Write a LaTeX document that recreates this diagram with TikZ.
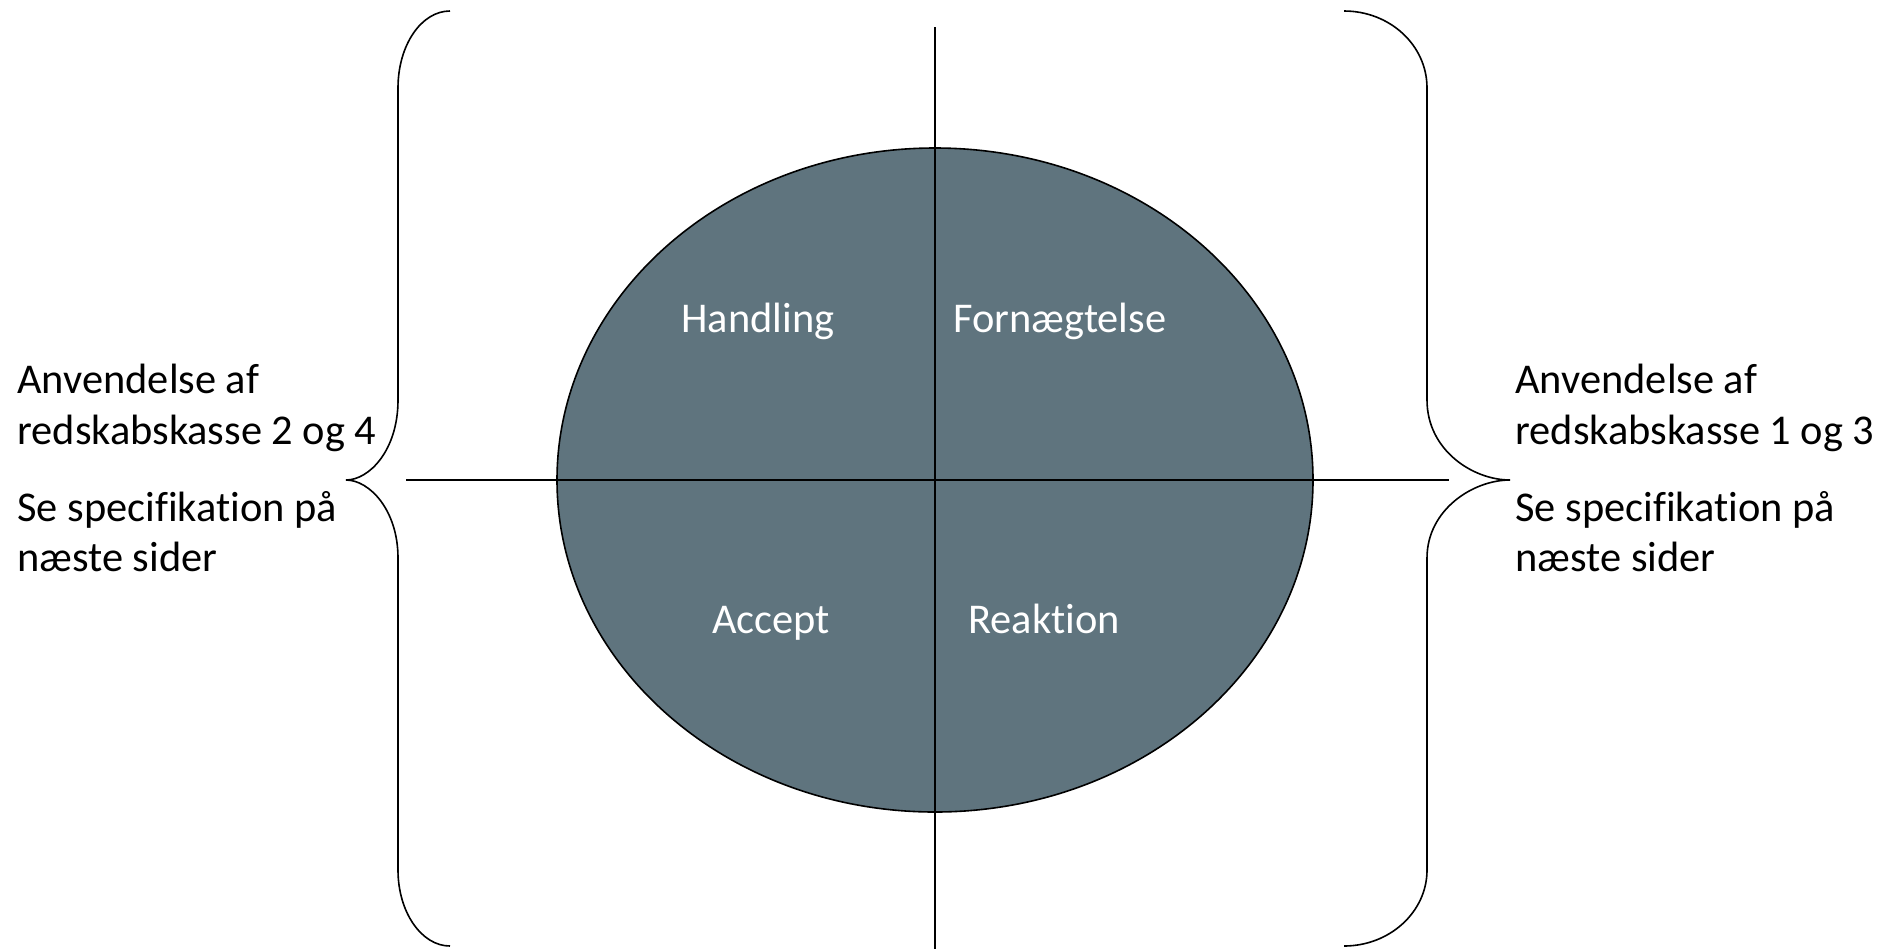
\documentclass[tikz,border=0pt]{standalone}
\usepackage{fontspec}
\setmainfont{Carlito}[Ligatures=NoCommon]
\usepackage{xcolor}
\usetikzlibrary{shapes.geometric,positioning}
\definecolor{discgray}{RGB}{95,116,126}

\begin{document}
\begin{tikzpicture}[x=0.5pt,y=-0.5pt,
        sidetext/.style={anchor=base west,inner sep=0pt,font=\fontsize{21.2}{25.5}\selectfont},
        quadtext/.style={anchor=base,inner sep=0pt,text=white,font=\fontsize{21.2}{25.5}\selectfont},
        bracestyle/.style={line width=0.8pt,black},
        axisline/.style={line width=1pt,black}]
        \useasboundingbox (0,0) rectangle (1894,949);

        % Disc in the middle
        \node[ellipse,draw=black,line width=0.8pt,fill=discgray,
              minimum width=756pt*0.5,minimum height=664pt*0.5,inner sep=0pt] (disc) at (935,480) {};

        % Cross through the disc
        \coordinate (vtop) at (935,27);
        \coordinate (vbot) at (935,949);
        \coordinate (hleft) at (406,480);
        \coordinate (hright) at (1449,480);
        \draw[axisline] (vtop) -- (vbot);
        \draw[axisline] (hleft) -- (hright);

        % Quadrant labels
        \node[quadtext] (handling) at (758,332) {Handling};
        \node[quadtext] (fornaegt) at (1060,332) {Fornægtelse};
        \node[quadtext] (accept) at (771,633) {Accept};
        \node[quadtext] (reaktion) at (1044,633) {Reaktion};

        % Braces (end x / straight x / tip x)
        \foreach \e/\s/\t in {450/398/346, 1344/1427/1510} {
            \draw[bracestyle] (\e,11)
                .. controls ({\s+0.45*(\e-\s)},11) and (\s,45) .. (\s,88)
                -- (\s,400)
                .. controls (\s,450) and ({\t+0.45*(\s-\t)},480) .. (\t,480)
                .. controls ({\t+0.45*(\s-\t)},480) and (\s,510) .. (\s,558)
                -- (\s,870)
                .. controls (\s,912) and ({\s+0.45*(\e-\s)},946) .. (\e,946);
        }

        % Left side text
        \node[sidetext] (lefta) at (17,393) {Anvendelse af};
        \node[sidetext] (leftb) at (17,444) {redskabskasse 2 og 4};
        \node[sidetext] (leftc) at (17,521) {Se specifikation på};
        \node[sidetext] (leftd) at (17,571) {næste sider};

        % Right side text
        \node[sidetext] (righta) at (1515,393) {Anvendelse af};
        \node[sidetext] (rightb) at (1515,444) {redskabskasse 1 og 3};
        \node[sidetext] (rightc) at (1515,521) {Se specifikation på};
        \node[sidetext] (rightd) at (1515,571) {næste sider};

    \end{tikzpicture}
\end{document}
